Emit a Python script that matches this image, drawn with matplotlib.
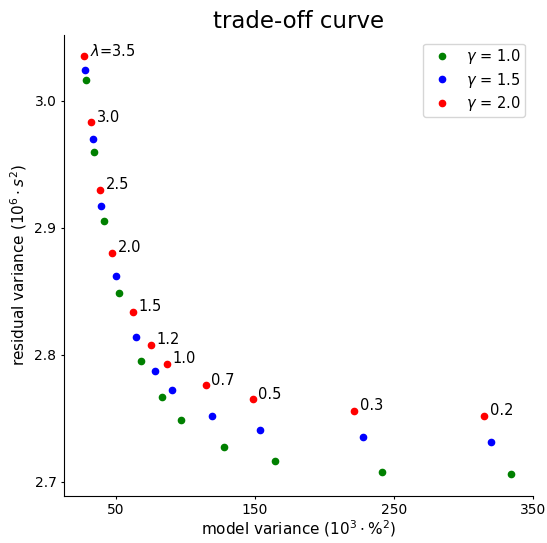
import matplotlib
matplotlib.use("Agg")
import matplotlib.pyplot as plt

# regularisation values, one label per point
lambdas = [3.5, 3.0, 2.5, 2.0, 1.5, 1.2, 1.0, 0.7, 0.5, 0.3, 0.2]

# model variance (x) and residual variance (y) for each gamma
x_g10 = [29.1, 34.2, 41.4, 52.2, 68.0, 83.1, 96.8, 127.7, 164.4, 241.4, 334.2]
y_g10 = [3.016, 2.960, 2.905, 2.849, 2.795, 2.767, 2.749, 2.727, 2.716, 2.708, 2.706]

x_g15 = [28.4, 33.5, 39.9, 50.0, 64.4, 78.1, 90.3, 119.1, 153.6, 227.7, 319.8]
y_g15 = [3.024, 2.970, 2.917, 2.862, 2.814, 2.787, 2.772, 2.752, 2.741, 2.735, 2.731]

x_g20 = [27.7, 32.7, 39.2, 47.8, 62.2, 75.2, 86.7, 114.7, 148.6, 221.2, 314.7]
y_g20 = [3.035, 2.983, 2.930, 2.880, 2.834, 2.808, 2.793, 2.776, 2.765, 2.756, 2.752]

fig = plt.figure(figsize=(5.47, 5.43), dpi=100)
ax = fig.add_axes([0.117, 0.087, 0.858, 0.849])

ax.plot(x_g10, y_g10, "o", color="green", markersize=4.5, label=r"$\gamma$ = 1.0")
ax.plot(x_g15, y_g15, "o", color="blue", markersize=4.5, label=r"$\gamma$ = 1.5")
ax.plot(x_g20, y_g20, "o", color="red", markersize=4.5, label=r"$\gamma$ = 2.0")

for i, lam in enumerate(lambdas):
    txt = r"$\lambda$=" + str(lam) if i == 0 else str(lam)
    ax.annotate(txt, (x_g20[i], y_g20[i]), xytext=(4, 0.5),
                textcoords="offset points", fontsize=10.5)

ax.set_xlim(13, 350)
ax.set_ylim(2.689, 3.052)
ax.set_xticks([50, 150, 250, 350])
ax.set_yticks([2.7, 2.8, 2.9, 3.0])
ax.tick_params(labelsize=10, length=2.4, pad=3)
ax.spines["top"].set_visible(False)
ax.spines["right"].set_visible(False)

ax.set_xlabel(r"model variance ($10^3 \cdot \%^2$)", fontsize=11, labelpad=1)
ax.set_ylabel(r"residual variance ($10^6 \cdot s^2$)", fontsize=11, labelpad=4)
ax.set_title("trade-off curve", fontsize=16.5, pad=5)
ax.legend(loc="upper right", fontsize=10.5, labelspacing=0.3, borderpad=0.25,
          borderaxespad=0.6, handletextpad=0.7)

plt.savefig("out.png", dpi=100)
